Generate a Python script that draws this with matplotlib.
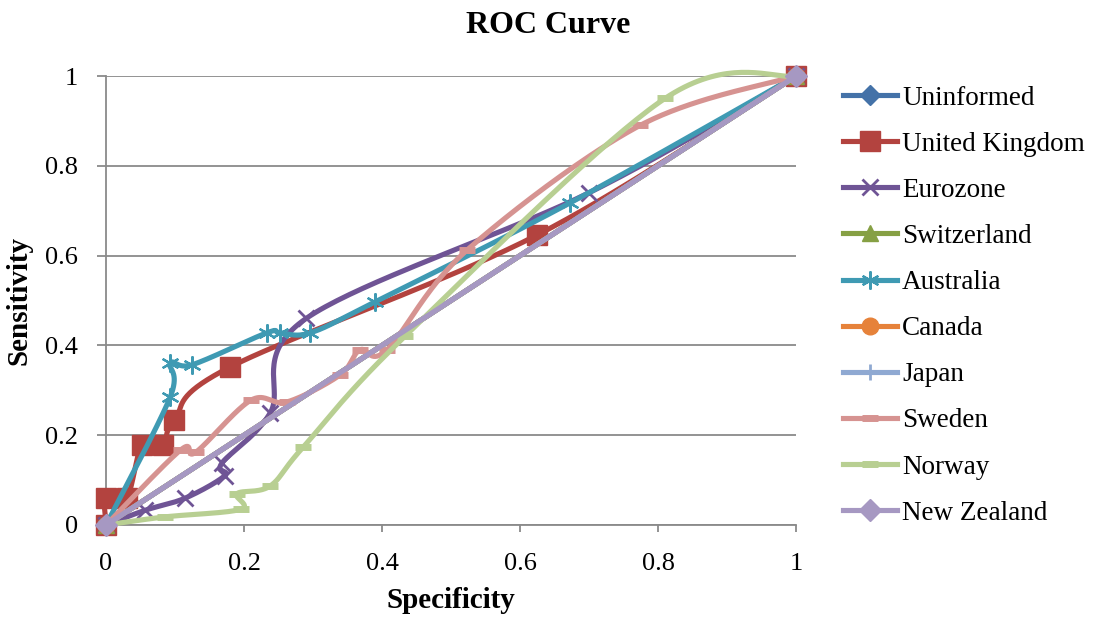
"""ROC curves for the currency forecasting models (Excel-style smoothed lines)."""

import numpy as np
import matplotlib

matplotlib.use("Agg")
import matplotlib.pyplot as plt
from matplotlib.lines import Line2D

plt.rcParams["font.family"] = ["Liberation Serif", "DejaVu Serif"]

# series values: specificity (x) / sensitivity (y)
uninformed_x = [0, 1]
uninformed_y = [0, 1]
uk_x = [0, 0, 0.03, 0.052, 0.082, 0.099, 0.18, 0.625, 1]
uk_y = [0, 0.06, 0.06, 0.178, 0.178, 0.234, 0.352, 0.646, 1]
eurozone_x = [0, 0.057, 0.115, 0.172, 0.168, 0.238, 0.29, 0.70, 1]
eurozone_y = [0, 0.033, 0.06, 0.11, 0.138, 0.25, 0.46, 0.74, 1]
switzerland_x = [0, 1]
switzerland_y = [0, 1]
australia_x = [0, 0.093, 0.093, 0.125, 0.233, 0.252, 0.296, 0.39, 0.672, 1]
australia_y = [0, 0.285, 0.36, 0.357, 0.428, 0.428, 0.428, 0.497, 0.717, 1]
canada_x = [0, 1]
canada_y = [0, 1]
japan_x = [0, 1]
japan_y = [0, 1]
sweden_x = [0, 0.108, 0.13, 0.21, 0.262, 0.339, 0.368, 0.407, 0.523, 0.774, 1]
sweden_y = [0, 0.167, 0.162, 0.278, 0.274, 0.334, 0.39, 0.39, 0.612, 0.89, 1]
norway_x = [0, 0.085, 0.195, 0.19, 0.238, 0.286, 0.433, 0.81, 1]
norway_y = [0, 0.018, 0.035, 0.07, 0.087, 0.174, 0.42, 0.95, 1]
nz_x = [0, 1]
nz_y = [0, 1]

labels = ["Uninformed", "United Kingdom", "Eurozone", "Switzerland", "Australia",
          "Canada", "Japan", "Sweden", "Norway", "New Zealand"]
xs = [uninformed_x, uk_x, eurozone_x, switzerland_x, australia_x,
      canada_x, japan_x, sweden_x, norway_x, nz_x]
ys = [uninformed_y, uk_y, eurozone_y, switzerland_y, australia_y,
      canada_y, japan_y, sweden_y, norway_y, nz_y]

colors = ["#4472A8", "#B3433F", "#6F5495", "#86A044", "#3F9AB3",
          "#E6823A", "#8FA9D2", "#D69391", "#B8CF92", "#A698C2"]
markers = ["D", "s", "x", "^", (6, 2, 0), "o", "|", "_", "_", "D"]
msizes = [10, 14, 11, 11, 13, 12, 11, 12, 12, 11]
mews = [1, 1, 2, 1, 1.6, 1, 2, 5, 5, 1]


def smooth(x, y, n=40):
    # Bezier smoothing through the points, like Excel's "smoothed line"
    p = np.column_stack([x, y]).astype(float)
    if len(p) < 3:
        return p[:, 0], p[:, 1]
    out = [p[0]]
    t = np.linspace(0, 1, n)[1:, None]
    for i in range(len(p) - 1):
        p0 = p[i - 1] if i > 0 else p[i]
        p3 = p[i + 2] if i + 2 < len(p) else p[i + 1]
        c1 = p[i] + (p[i + 1] - p0) / 6
        c2 = p[i + 1] - (p3 - p[i]) / 6
        seg = (1 - t) ** 3 * p[i] + 3 * (1 - t) ** 2 * t * c1 + 3 * (1 - t) * t ** 2 * c2 + t ** 3 * p[i + 1]
        out.extend(seg)
    out = np.array(out)
    return out[:, 0], out[:, 1]


fig = plt.figure(figsize=(10.99, 6.18), dpi=100)
ax = fig.add_axes([0.0965, 0.1505, 0.6278, 0.7265])

for i in range(len(labels)):
    sx, sy = smooth(xs[i], ys[i])
    ax.plot(sx, sy, color=colors[i], lw=3.7, solid_capstyle="round", zorder=3 + i, clip_on=False)
    ax.plot(xs[i], ys[i], ls="none", marker=markers[i], ms=msizes[i], mew=mews[i],
            color=colors[i], mec=colors[i], zorder=3 + i, clip_on=False)

ax.set_xlim(0, 1)
ax.set_ylim(0, 1)
ax.set_xticks(np.arange(0, 1.01, 0.2))
ax.set_yticks(np.arange(0, 1.01, 0.2))
ax.set_xticklabels(["0", "0.2", "0.4", "0.6", "0.8", "1"])
ax.set_yticklabels(["0", "0.2", "0.4", "0.6", "0.8", "1"])
ax.grid(axis="y", color="#8A8A8A", lw=1.3)
ax.set_axisbelow(True)
for side in ["top", "right"]:
    ax.spines[side].set_visible(False)
for side in ["left", "bottom"]:
    ax.spines[side].set_color("#8A8A8A")
    ax.spines[side].set_linewidth(1.3)
ax.tick_params(axis="both", colors="#8A8A8A", width=1.3, labelsize=19, labelcolor="black")
ax.tick_params(axis="x", pad=15, length=5)
ax.tick_params(axis="y", pad=13.5, length=6.5)

ax.set_xlabel("Specificity", fontsize=21, fontweight="bold", labelpad=9)
ax.set_ylabel("Sensitivity", fontsize=21, fontweight="bold", labelpad=9)
fig.suptitle("ROC Curve", x=0.499, y=0.983, fontsize=23, fontweight="bold")

handles = [Line2D([], [], color=colors[i], lw=3.7, marker=markers[i], ms=msizes[i],
                  mew=mews[i], mec=colors[i]) for i in range(len(labels))]
fig.legend(handles, labels, loc="upper left", bbox_to_anchor=(0.767, 0.8615), frameon=False,
           fontsize=19.5, handlelength=2.0, handletextpad=0.18, labelspacing=0.78,
           borderpad=0, borderaxespad=0)

fig.savefig("out.png", dpi=100)
